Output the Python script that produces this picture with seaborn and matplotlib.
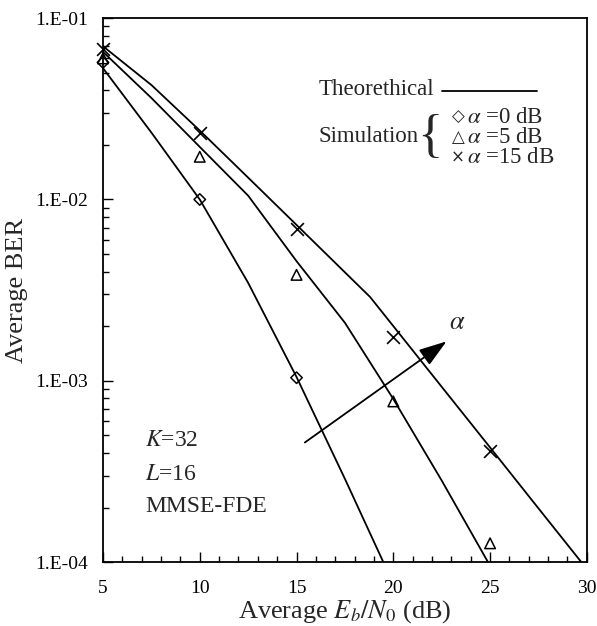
import matplotlib
matplotlib.use('Agg')
import matplotlib.pyplot as plt
from matplotlib.ticker import FixedLocator, LogLocator, NullFormatter, MultipleLocator
import seaborn as sns

#%% data

# theoretical curves
theory_snr_0 = [5, 7.5, 10, 12.5, 15, 17.5, 20]
theory_ber_0 = [5.30e-2, 2.34e-2, 1.00e-2, 3.47e-3, 1.05e-3, 2.88e-4, 7.6e-5]

theory_snr_5 = [5, 7.5, 10, 12.5, 15, 17.5, 20, 22.5, 25]
theory_ber_5 = [6.52e-2, 3.63e-2, 1.95e-2, 1.05e-2, 4.57e-3, 2.09e-3, 7.94e-4, 2.82e-4, 9.55e-5]

theory_snr_15 = [5, 7.5, 10, 12.5, 15, 18.8, 22.5, 25, 27.5, 30]
theory_ber_15 = [7.00e-2, 4.28e-2, 2.40e-2, 1.32e-2, 7.24e-3, 2.90e-3, 9.27e-4, 4.29e-4, 1.98e-4, 9.16e-5]

# simulation points
sim_snr_0 = [5, 10, 15]
sim_ber_0 = [5.7e-2, 1.00e-2, 1.04e-3]

sim_snr_5 = [5, 10, 15, 20, 25]
sim_ber_5 = [6.0e-2, 1.72e-2, 3.84e-3, 7.7e-4, 1.27e-4]

sim_snr_15 = [5, 10, 15, 20, 25]
sim_ber_15 = [6.8e-2, 2.34e-2, 6.87e-3, 1.75e-3, 4.1e-4]

ytick_values = [1e-4, 1e-3, 1e-2, 1e-1]
ytick_labels = ['1.E-04', '1.E-03', '1.E-02', '1.E-01']

legend_symbols = ['\u25c7', '\u25b3', '\u00d7']
legend_labels = ['$\\alpha$ =0 dB', '$\\alpha$ =5 dB', '$\\alpha$ =15 dB']

#%% style

sns.set_style('white')
plt.rcParams['font.family'] = ['Liberation Serif', 'DejaVu Sans']
plt.rcParams['mathtext.fontset'] = 'stix'

fig = plt.figure(figsize=(5.97, 6.26), dpi=100)
ax = fig.add_axes([0.1725, 0.102, 0.8105, 0.869])

#%% curves

for snr, ber in [(theory_snr_0, theory_ber_0),
                 (theory_snr_5, theory_ber_5),
                 (theory_snr_15, theory_ber_15)]:
    sns.lineplot(x=snr, y=ber, color='black', linewidth=1.3,
                 estimator=None, sort=False, ax=ax, legend=False)

sns.scatterplot(x=sim_snr_0, y=sim_ber_0, marker='D', s=34,
                facecolor='none', edgecolor='black', linewidth=1.1,
                ax=ax, clip_on=False, zorder=3, legend=False)
sns.scatterplot(x=sim_snr_5, y=sim_ber_5, marker='^', s=58,
                facecolor='none', edgecolor='black', linewidth=1.1,
                ax=ax, clip_on=False, zorder=3, legend=False)
sns.scatterplot(x=sim_snr_15, y=sim_ber_15, marker='x', s=85,
                color='black', linewidth=1.2,
                ax=ax, clip_on=False, zorder=3, legend=False)

#%% axes

ax.set_yscale('log')
ax.set_xlim(5, 30)
ax.set_ylim(1e-4, 1e-1)
ax.yaxis.set_major_locator(FixedLocator(ytick_values))
ax.set_yticklabels(ytick_labels)
ax.yaxis.set_minor_locator(LogLocator(base=10, subs=range(2, 10)))
ax.yaxis.set_minor_formatter(NullFormatter())
ax.xaxis.set_major_locator(MultipleLocator(5))
ax.xaxis.set_minor_locator(MultipleLocator(1))

ax.tick_params(which='both', direction='in', top=False, right=False,
               left=True, bottom=True, colors='black', labelsize=14)
ax.tick_params(which='major', length=7, width=1)
ax.tick_params(which='minor', length=4, width=1)
ax.tick_params(axis='x', pad=13)
ax.tick_params(axis='y', pad=11)

for spine in ax.spines.values():
    spine.set_color('black')
    spine.set_linewidth(1.3)

ax.set_xlabel('Average $E_b/N_0$ (dB)', fontsize=19, labelpad=1)
ax.set_ylabel('Average BER', fontsize=19, labelpad=5)

#%% annotations

ax.text(0.445, 0.868, 'Theorethical', transform=ax.transAxes,
        fontsize=16.5, ha='left', va='center')
ax.plot([0.700, 0.897], [0.866, 0.866], color='black', linewidth=1.3,
        transform=ax.transAxes)
ax.text(0.445, 0.783, 'Simulation', transform=ax.transAxes,
        fontsize=16.5, ha='left', va='center')
ax.text(0.676, 0.780, '{', transform=ax.transAxes, fontsize=38,
        ha='center', va='center', fontweight='light')
for i, (sym, label) in enumerate(zip(legend_symbols, legend_labels)):
    y = 0.818 - i * 0.037
    ax.text(0.734, y, sym, transform=ax.transAxes, fontsize=12,
            family='DejaVu Sans', ha='center', va='center')
    ax.text(0.752, y, label, transform=ax.transAxes,
            fontsize=16.5, ha='left', va='center')

ax.text(0.087, 0.223, '$K$=32', transform=ax.transAxes, fontsize=17,
        ha='left', va='center')
ax.text(0.087, 0.162, '$L$=16', transform=ax.transAxes, fontsize=17,
        ha='left', va='center')
ax.text(0.087, 0.102, 'MMSE-FDE', transform=ax.transAxes, fontsize=17,
        ha='left', va='center')

ax.annotate('', xy=(22.75, 1.65e-3), xytext=(15.43, 4.57e-4),
            arrowprops=dict(arrowstyle='-|>,head_length=0.9,head_width=0.3',
                            color='black', linewidth=1.3, mutation_scale=19,
                            shrinkA=0, shrinkB=0))
ax.text(23.3, 2.09e-3, '$\\alpha$', fontsize=19, ha='center', va='center')

fig.savefig('out.png', dpi=100)
